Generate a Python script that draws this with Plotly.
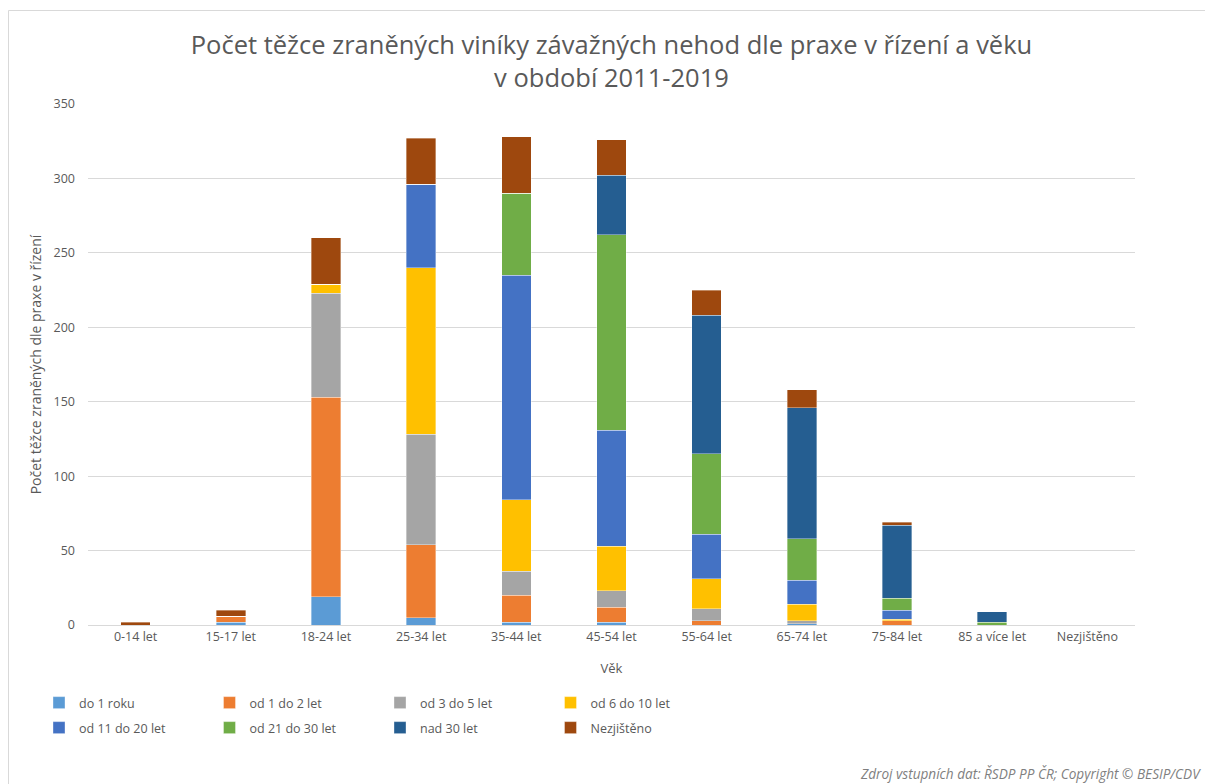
import plotly.graph_objects as go

# Age groups (x categories)
vek = ["0-14 let", "15-17 let", "18-24 let", "25-34 let", "35-44 let", "45-54 let",
       "55-64 let", "65-74 let", "75-84 let", "85 a více let", "Nezjištěno"]

# Seriously injured culprits by driving experience
do_1_roku       = [0, 2, 19, 5, 2, 2, 0, 1, 0, 0, 0]
od_1_do_2       = [0, 4, 134, 49, 18, 10, 3, 0, 3, 0, 0]
od_3_do_5       = [0, 0, 70, 74, 16, 11, 8, 2, 0, 0, 0]
od_6_do_10      = [0, 0, 6, 112, 48, 30, 20, 11, 1, 0, 0]
od_11_do_20     = [0, 0, 0, 56, 151, 78, 30, 16, 6, 0, 0]
od_21_do_30     = [0, 0, 0, 0, 55, 131, 54, 28, 8, 2, 0]
nad_30          = [0, 0, 0, 0, 0, 40, 93, 88, 49, 7, 0]
nezjisteno      = [2, 4, 31, 31, 38, 24, 17, 12, 2, 0, 0]

series = [
    ("do 1 roku", do_1_roku, "#5B9BD5", "legend"),
    ("od 1 do 2 let", od_1_do_2, "#ED7D31", "legend"),
    ("od 3 do 5 let", od_3_do_5, "#A5A5A5", "legend"),
    ("od 6 do 10 let", od_6_do_10, "#FFC000", "legend"),
    ("od 11 do 20 let", od_11_do_20, "#4472C4", "legend2"),
    ("od 21 do 30 let", od_21_do_30, "#70AD47", "legend2"),
    ("nad 30 let", nad_30, "#255E91", "legend2"),
    ("Nezjištěno", nezjisteno, "#9E480E", "legend2"),
]

FONT = "Open Sans"
GREY = "#595959"

fig = go.Figure()
for name, vals, color, lg in series:
    fig.add_trace(go.Bar(
        x=vek, y=vals, name=name, legend=lg,
        marker=dict(color=color, line=dict(color="rgba(255,255,255,0.6)", width=0.6)),
    ))

W, H = 1205, 784
L, R, T, B = 88, 70, 104, 159
pw, ph = W - L - R, H - T - B

def px_x(p):
    return (p - L) / pw

def px_y(p):
    return (H - B - p) / ph

legend_common = dict(
    orientation="h", xanchor="left", yanchor="middle",
    font=dict(family=FONT, size=12.5, color=GREY),
    entrywidth=125.5, entrywidthmode="pixels",
    bgcolor="rgba(0,0,0,0)", itemclick=False, itemdoubleclick=False,
    traceorder="normal",
)

fig.update_layout(
    width=W, height=H,
    margin=dict(l=L, r=R, t=T, b=B, autoexpand=False),
    paper_bgcolor="white", plot_bgcolor="white",
    barmode="stack", bargap=0.69,
    font=dict(family=FONT, color=GREY),
    title=dict(
        text="Počet těžce zraněných viníky závažných nehod dle praxe v řízení a věku<br>v období 2011-2019",
        x=0.5, xref="paper", xanchor="center",
        y=1 - 54 / H, yref="container", yanchor="middle",
        font=dict(family=FONT, size=25.5, color=GREY),
    ),
    xaxis=dict(
        showgrid=False, showline=True, linecolor="#D9D9D9", linewidth=1,
        ticks="", tickfont=dict(family=FONT, size=12.5, color=GREY),
        title=dict(text="Věk", font=dict(family=FONT, size=13, color=GREY), standoff=19),
        fixedrange=True,
    ),
    yaxis=dict(
        range=[0, 350], dtick=50, showgrid=True, gridcolor="#D9D9D9", gridwidth=1,
        zeroline=False, showline=False, ticks="", ticklabelstandoff=12,
        tickfont=dict(family=FONT, size=12.5, color=GREY),
        title=dict(text="Počet těžce zraněných dle praxe v řízení",
                   font=dict(family=FONT, size=14, color=GREY), standoff=8),
        fixedrange=True,
    ),
    legend=dict(x=px_x(39), y=px_y(703), **legend_common),
    legend2=dict(x=px_x(39), y=px_y(728), **legend_common),
    showlegend=True,
)

# Chart frame
fig.add_shape(type="rect", xref="paper", yref="paper",
              x0=px_x(8.5), x1=px_x(1215), y0=px_y(800), y1=px_y(10.5),
              line=dict(color="#D9D9D9", width=1), fillcolor="rgba(0,0,0,0)", layer="below")

# Data source note
fig.add_annotation(
    text="<i>Zdroj vstupních dat: ŘSDP PP ČR; Copyright © BESIP/CDV</i>",
    xref="paper", yref="paper", x=px_x(1203), y=px_y(773),
    xanchor="right", yanchor="middle", showarrow=False,
    font=dict(family=FONT, size=13.6, color="#7F7F7F"),
)

fig.write_html("out.html")
